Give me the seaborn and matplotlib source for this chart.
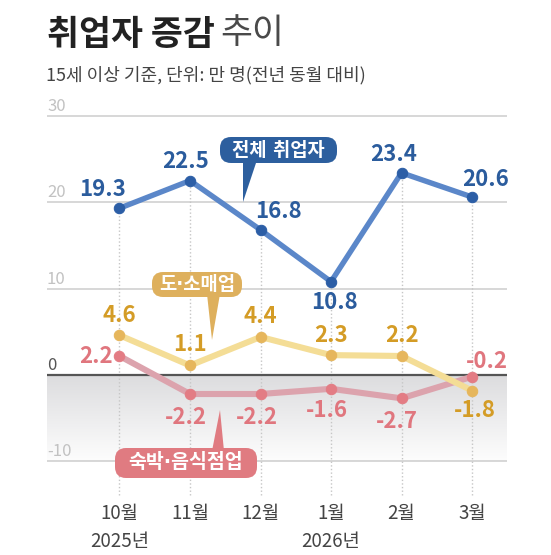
import numpy as np
import pandas as pd
import matplotlib
matplotlib.use('Agg')
import matplotlib.pyplot as plt
import matplotlib.transforms as mtransforms
from matplotlib.colors import LinearSegmentedColormap
from matplotlib.patches import FancyBboxPatch, Polygon
import seaborn as sns

# 데이터 (전년 동월 대비, 만 명)
months = ['10월', '11월', '12월', '1월', '2월', '3월']
years = ['2025년', '', '', '2026년', '', '']
total = [19.3, 22.5, 16.8, 10.8, 23.4, 20.6]
retail = [4.6, 1.1, 4.4, 2.3, 2.2, -1.8]
food = [2.2, -2.2, -2.2, -1.6, -2.7, -0.2]
yticks = [30, 20, 10, 0, -10]

# 값 라벨 위치 (픽셀 오프셋, 아래 방향 +)
total_off = [(-17, -19), (-4, -19), (18, -18), (3, 21), (-8, -18), (14, -18)]
retail_off = [(0, -20), (0, -21), (0, -20), (0, -20), (0, -20), (3, 20)]
food_off = [(-23, 1), (-4, 24), (-4, 24), (-4, 22), (-5, 23), (15, -15)]

sns.set_theme(style='white')
plt.rcParams['font.family'] = ['Noto Sans CJK KR', 'DejaVu Sans']
plt.rcParams['axes.unicode_minus'] = False
# 가운뎃점은 좁은 글리프로 (한글은 Noto CJK로 넘어감)
narrow = ['DejaVu Sans', 'Noto Sans CJK KR']

W, H = 551, 555
fig = plt.figure(figsize=(W / 100, H / 100), dpi=100)
fig.patch.set_facecolor('white')
ax = fig.add_axes([47 / W, 1 - 500 / H, 460 / W, 400 / H])
ax.set_facecolor('none')

# 픽셀 좌표 (왼쪽 위 기준) 변환
pxT = mtransforms.Affine2D().scale(1 / W, 1 / H) + fig.transFigure


def P(x, y):
    return (x, H - y)


df = pd.DataFrame({'x': np.arange(len(months)), 'month': months,
                   'total': total, 'retail': retail, 'food': food})

x0, x1 = -1.028, 5.496
y0, y1 = -14.47, 31.83

# 0 아래 회색 그라데이션
grad = np.linspace(0, 1, 256).reshape(-1, 1)
cmap = LinearSegmentedColormap.from_list('g', ['#dcdcde', '#fdfdfd'])
ax.imshow(grad, extent=[x0, x1, -10, 0], cmap=cmap, aspect='auto',
          origin='upper', zorder=0)

for t in yticks:
    if t == 0:
        ax.axhline(t, color='#555555', lw=1.6, zorder=2)
    else:
        ax.axhline(t, color='#d4d4d4', lw=1.3, zorder=1)
    lab_tr = mtransforms.offset_copy(
        mtransforms.blended_transform_factory(ax.transAxes, ax.transData),
        fig=fig, x=0, y=5, units='dots')
    ax.text(0, t, str(t), transform=lab_tr, ha='left', va='baseline',
            fontsize=12, color='#555555' if t == 0 else '#c2c2c2')

# 점선 세로선
ax.vlines(df['x'], -13.9, df['total'], colors='#c6c6c6',
          linestyles=(0, (1, 1.6)), lw=1, zorder=1)

# 선
sns.lineplot(data=df, x='x', y='food', ax=ax, color='#dca3ad', lw=4.4,
             marker='o', markersize=7.5, markerfacecolor='#e37c84',
             markeredgecolor='#e37c84', zorder=3)
sns.lineplot(data=df, x='x', y='retail', ax=ax, color='#f4dd96', lw=4.4,
             marker='o', markersize=7.5, markerfacecolor='#e6b65c',
             markeredgecolor='#e6b65c', zorder=4)
sns.lineplot(data=df, x='x', y='total', ax=ax, color='#5b87c9', lw=3.9,
             marker='o', markersize=7.5, markerfacecolor='#2c5ea6',
             markeredgecolor='#2c5ea6', zorder=5)

series = [(total, total_off, '#2b5c9d'),
          (retail, retail_off, '#d49c26'),
          (food, food_off, '#e0767e')]
for vals, offs, col in series:
    for i, (v, (dx, dy)) in enumerate(zip(vals, offs)):
        ax.annotate(f'{v:.1f}', (i, v), xytext=(dx, -dy),
                    textcoords='offset pixels', ha='center', va='center',
                    fontsize=16, weight='bold', color=col, zorder=6)

ax.set_xlim(x0, x1)
ax.set_ylim(y0, y1)
ax.set_yticks([])
ax.set_xticks(df['x'])
ax.set_xticklabels([m + ('\n' + y if y else '') for m, y in zip(months, years)])
ax.tick_params(axis='x', length=0, pad=2, labelsize=13.5, colors='#444444')
for lab in ax.get_xticklabels():
    lab.set_linespacing(1.45)
ax.set_xlabel('')
ax.set_ylabel('')
sns.despine(ax=ax, left=True, bottom=True)


# 말풍선 라벨
def bubble(box, base, tip, color, text, size):
    bx0, by0, bx1, by1 = box
    fig.add_artist(Polygon([P(*base[0]), P(*base[1]), P(*tip)], closed=True,
                           facecolor=color, edgecolor='none',
                           transform=pxT, zorder=7))
    fig.add_artist(FancyBboxPatch(P(bx0, by1), bx1 - bx0, by1 - by0,
                                  boxstyle='round,pad=0,rounding_size=11',
                                  facecolor=color, edgecolor='none',
                                  transform=pxT, zorder=7))
    cx, cy = P((bx0 + bx1) / 2, (by0 + by1) / 2)
    fig.text(cx, cy, text, transform=pxT, ha='center', va='center',
             fontsize=size, weight='bold', color='white', zorder=8,
             family=narrow)


bubble((220, 137, 337, 163), [(243, 160), (257, 160)], (243, 202),
       '#2d5f9e', '전체 취업자', 13.5)
bubble((152, 272, 242, 297), [(207, 294), (220, 294)], (212, 340),
       '#deb05d', '도·소매업', 13.5)
bubble((115, 448, 257, 478), [(212, 451), (224, 451)], (220, 410),
       '#e07b81', '숙박·음식점업', 14)

# 제목
fig.text(47 / W, 1 - 34 / H, '취업자 증감', fontsize=25, weight='bold',
         color='#222222', va='center', ha='left')
fig.text(220 / W, 1 - 34 / H, '추이', fontsize=25, weight='light',
         color='#4a4a4a', va='center', ha='left')
fig.text(46 / W, 1 - 75 / H, '15세 이상 기준, 단위: 만 명(전년 동월 대비)',
         fontsize=13, color='#444444', va='center', ha='left')

fig.savefig('out.png', dpi=100, facecolor='white')
